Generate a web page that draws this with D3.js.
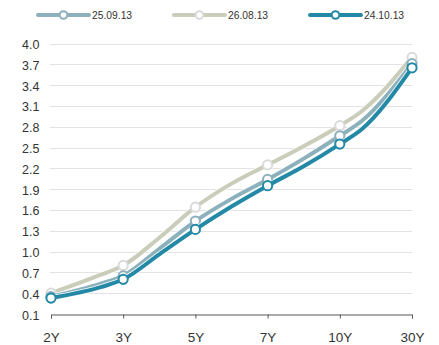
<!DOCTYPE html>
<html>
<head>
<meta charset="utf-8">
<script src="https://cdn.jsdelivr.net/npm/d3@7/dist/d3.min.js"></script>
<style>
  html, body { margin: 0; padding: 0; background: #fff; }
  svg { display: block; font-family: "Liberation Sans", Arial, sans-serif; }
</style>
</head>
<body>
<svg id="chart" width="439" height="345"></svg>
<script>
// Tenors on the x axis
const tenors = ["2Y", "3Y", "5Y", "7Y", "10Y", "30Y"];
// Curve sample positions, measured in tenor steps (integers are the marked tenors)
const curvePos = [0, 0.7, 1, 1.5, 2, 2.5, 3, 3.5, 4, 4.3, 5];
// Yields (%) for each curve date
const yields250913 = [0.35, 0.54, 0.65, 1.04, 1.44, 1.76, 2.04, 2.34, 2.67, 2.88, 3.71];
const yields260813 = [0.40, 0.67, 0.80, 1.20, 1.64, 1.98, 2.25, 2.52, 2.815, 3.02, 3.80];
const yields241013 = [0.33, 0.49, 0.60, 0.96, 1.32, 1.65, 1.95, 2.23, 2.55, 2.76, 3.65];
const seriesNames = ["25.09.13", "26.08.13", "24.10.13"];
// Y-axis tick labels
const yTickLabels = ["0.1", "0.4", "0.7", "1.0", "1.3", "1.6", "1.9", "2.2", "2.5", "2.8", "3.1", "3.4", "3.7", "4.0"];

(function () {
const series = [
  { name: seriesNames[0], values: yields250913, line: "#8cb1bd", marker: "#8cb1bd" },
  { name: seriesNames[1], values: yields260813, line: "#c9cdba", marker: "#dadada" },
  { name: seriesNames[2], values: yields241013, line: "#2389a6", marker: "#2389a6" }
];
// Draw order: lightest curve at the back, latest date in front
const drawOrder = [1, 0, 2];

const svg = d3.select("#chart");
const mLeft = 51, mRight = 412, mTop = 43.5, mBottom = 314;

const x = d3.scalePoint().domain(tenors).range([mLeft, mRight]);
const xPos = d3.scaleLinear().domain([0, tenors.length - 1]).range([mLeft, mRight]);
const yTicks = yTickLabels.map(Number);
const y = d3.scaleLinear().domain([d3.min(yTicks), d3.max(yTicks)]).range([mBottom, mTop]);

// Horizontal grid
svg.append("g")
  .selectAll("line")
  .data(yTicks.slice(1))
  .join("line")
  .attr("x1", mLeft - 1).attr("x2", mRight)
  .attr("y1", d => Math.round(y(d)) + 0.5).attr("y2", d => Math.round(y(d)) + 0.5)
  .attr("stroke", "#e3e3e3").attr("stroke-width", 1);

// Y labels (no axis line)
svg.append("g")
  .selectAll("text")
  .data(yTicks)
  .join("text")
  .attr("x", 39.5)
  .attr("y", d => y(d) + 5.5)
  .attr("text-anchor", "end")
  .attr("font-size", 12.5)
  .attr("fill", "#333")
  .text((d, i) => yTickLabels[i]);

// X axis
const xAxis = svg.append("g")
  .attr("transform", `translate(0,${Math.round(mBottom) + 0.5})`)
  .call(d3.axisBottom(x).tickSize(4).tickSizeOuter(4).tickPadding(14));
xAxis.select(".domain").attr("stroke", "#555");
xAxis.selectAll(".tick line").attr("stroke", "#555");
xAxis.selectAll(".tick text")
  .attr("font-size", 13.5)
  .attr("font-family", "'Liberation Sans', Arial, sans-serif")
  .attr("fill", "#333");

const line = d3.line()
  .x((d, i) => xPos(curvePos[i]))
  .y(d => y(d))
  .curve(d3.curveMonotoneX);

const plot = svg.append("g");
drawOrder.forEach(k => {
  const s = series[k];
  const g = plot.append("g");
  g.append("path")
    .attr("d", line(s.values))
    .attr("fill", "none").attr("stroke", "#fff")
    .attr("stroke-width", 5.5).attr("stroke-linejoin", "round");
  g.append("path")
    .attr("d", line(s.values))
    .attr("fill", "none").attr("stroke", s.line)
    .attr("stroke-width", 4).attr("stroke-linejoin", "round").attr("stroke-linecap", "round");
  const markers = s.values
    .map((v, i) => ({ p: curvePos[i], v }))
    .filter(d => Number.isInteger(d.p));
  g.selectAll("circle")
    .data(markers)
    .join("circle")
    .attr("cx", d => x(tenors[d.p]))
    .attr("cy", d => y(d.v))
    .attr("r", 4.6)
    .attr("fill", "#fff")
    .attr("stroke", s.marker)
    .attr("stroke-width", 2);
});

// Legend
const legendX = [38, 174, 310];
const legend = svg.append("g");
series.forEach((s, i) => {
  const g = legend.append("g").attr("transform", `translate(${legendX[i]},15)`);
  g.append("line").attr("x1", 0).attr("x2", 51).attr("y1", 0).attr("y2", 0)
    .attr("stroke", s.line).attr("stroke-width", 4).attr("stroke-linecap", "round");
  g.append("circle").attr("cx", 25.5).attr("cy", 0).attr("r", 3.8)
    .attr("fill", "#fff").attr("stroke", s.marker).attr("stroke-width", 2);
  g.append("text").attr("x", 54).attr("y", 3.6)
    .attr("font-size", 10.3).attr("fill", "#333").text(s.name);
});
})();
</script>
</body>
</html>
